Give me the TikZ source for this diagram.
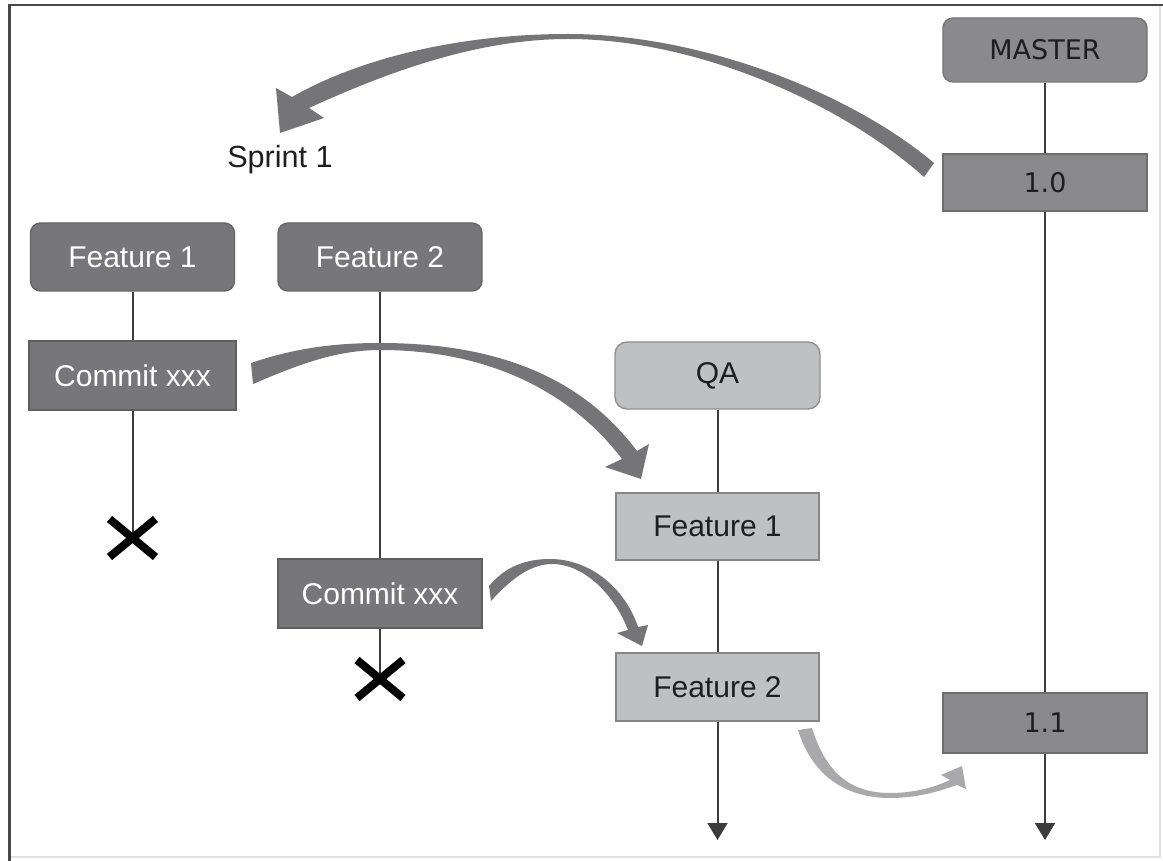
\documentclass[tikz,border=0pt]{standalone}
\usepackage{fontspec}
\setmainfont{Liberation Sans}
\newfontfamily\dvs{DejaVu Sans}
\usetikzlibrary{arrows.meta}
\definecolor{darkbox}{HTML}{77777A}
\definecolor{midbox}{HTML}{8A8A8C}
\definecolor{lightbox}{HTML}{BFC0C2}
\definecolor{swoosh}{HTML}{757577}
\definecolor{lswoosh}{HTML}{A9A9AB}
\definecolor{vline}{HTML}{3C3C3C}
\definecolor{txt}{HTML}{1E1E1E}
\tikzset{
  boxbase/.style={inner sep=0pt, line width=0.7pt},
  darkr/.style={boxbase, draw=darkbox!85!black, fill=darkbox, rounded corners=5pt, text=white, font=\fontsize{15}{17}\selectfont},
  darks/.style={boxbase, draw=darkbox!80!black, fill=darkbox, text=white, font=\fontsize{15}{17}\selectfont},
  lightr/.style={boxbase, draw=lightbox!75!black, fill=lightbox, rounded corners=6pt, text=txt, font=\fontsize{15}{17}\selectfont},
  lights/.style={boxbase, draw=lightbox!70!black, fill=lightbox, text=txt, font=\fontsize{15}{17}\selectfont},
  midr/.style={boxbase, draw=midbox!85!black, fill=midbox, rounded corners=5pt, text=txt, font=\dvs\fontsize{13.5}{16}\selectfont},
  mids/.style={boxbase, draw=midbox!80!black, fill=midbox, text=txt, font=\dvs\fontsize{13.5}{16}\selectfont},
  plaintext/.style={inner sep=0pt, text=txt, font=\fontsize{15.3}{18}\selectfont},
  vconn/.style={draw=vline, line width=1pt},
  vend/.style={vconn, -{Triangle[width=10pt,length=8.5pt]}},
  xmark/.style={draw=black, line width=4pt},
  swooshfill/.style={fill=swoosh, draw=none},
  lswooshfill/.style={fill=lswoosh, draw=none}
}
\begin{document}
\begin{tikzpicture}[x=0.5pt,y=-0.5pt]
\useasboundingbox (0,0) rectangle (1163,861);
\fill[white] (0,0) rectangle (1163,861);
% frame
\draw[draw=black!12, line width=0.6pt] (1160,5) -- (1160,857) -- (9.5,857);
\draw[draw=black!72, line width=1.3pt] (9.5,861) -- (9.5,5) -- (1163,5);

% nodes
\node[darkr, minimum width=102pt, minimum height=34pt] (f1) at (132.5,257) {Feature 1};
\node[darkr, minimum width=102pt, minimum height=34pt] (f2) at (380,257) {Feature 2};
\node[darks, minimum width=103.5pt, minimum height=34.5pt] (c1) at (132.5,375.5) {Commit xxx};
\node[darks, minimum width=102pt, minimum height=34.5pt] (c2) at (380,593.5) {Commit xxx};
\node[lightr, minimum width=102.5pt, minimum height=33.5pt] (qa) at (717.5,375.5) {QA};
\node[lights, minimum width=101.5pt, minimum height=33.5pt] (qf1) at (717.5,526.5) {Feature 1};
\node[lights, minimum width=101.5pt, minimum height=34pt] (qf2) at (717.5,687) {Feature 2};
\node[midr, minimum width=102pt, minimum height=32pt] (ms) at (1045,50) {MASTER};
\node[mids, minimum width=102pt, minimum height=28.5pt] (v10) at (1045,182.5) {1.0};
\node[mids, minimum width=102pt, minimum height=30pt] (v11) at (1045,723) {1.1};
\node[plaintext] (sp) at (280,160) {Sprint 1};

\coordinate (x1) at (132.5,538);
\coordinate (x2) at (380,679);
\coordinate (qend) at (717.5,840);
\coordinate (mend) at (1045,840);

% vertical connectors
\draw[vconn] (f1.south) -- (c1.north);
\draw[vconn] (c1.south) -- (x1);
\draw[vconn] (f2.south) -- (c2.north);
\draw[vconn] (c2.south) -- (x2);
\draw[vconn] (qa.south) -- (qf1.north);
\draw[vconn] (qf1.south) -- (qf2.north);
\draw[vend] (qf2.south) -- (qend);
\draw[vconn] (ms.south) -- (v10.north);
\draw[vconn] (v10.south) -- (v11.north);
\draw[vend] (v11.south) -- (mend);

% X marks
\draw[xmark] (x1) ++(-23,-19) -- ++(46,38);
\draw[xmark] (x1) ++(-23,19) -- ++(46,-38);
\draw[xmark] (x2) ++(-23,-19) -- ++(46,38);
\draw[xmark] (x2) ++(-23,19) -- ++(46,-38);

% top swoosh: 1.0 -> Sprint 1
\fill[swooshfill] (280,133) -- (276,88) -- (292,97)
  .. controls (360,58) and (460,34) .. (568,34)
  .. controls (700,34) and (850,92) .. (934,163)
  -- (924,177)
  .. controls (845,106) and (700,39) .. (568,39)
  .. controls (470,39) and (375,78) .. (309,108)
  -- (324,118) -- cycle;

% middle swoosh: Commit xxx -> QA Feature 1
\fill[swooshfill] (251,363)
  .. controls (295,348) and (335,343) .. (380,343)
  .. controls (500,343) and (583,379) .. (637,451)
  -- (649,444) -- (641,479) -- (605,467) -- (622,459)
  .. controls (572,393) and (490,350) .. (380,350)
  .. controls (335,350) and (295,366) .. (253,384) -- cycle;

% lower swoosh: Commit xxx -> QA Feature 2
\fill[swooshfill] (489,586)
  .. controls (505,567) and (525,559) .. (550,559)
  .. controls (590,559) and (625,588) .. (638,627)
  -- (648,625) -- (642,646) -- (617,633) -- (628,630)
  .. controls (615,596) and (585,564) .. (552,564)
  .. controls (530,564) and (510,580) .. (491,601) -- cycle;

% bottom-right swoosh: QA Feature 2 -> 1.1
\fill[lswooshfill] (798,730)
  .. controls (812,775) and (845,798) .. (890,798)
  .. controls (920,798) and (942,790) .. (957,785)
  -- (966,789) -- (962,766) -- (941,775) -- (950,780)
  .. controls (935,787) and (915,793) .. (890,793)
  .. controls (848,793) and (825,770) .. (812,728) -- cycle;
\end{tikzpicture}
\end{document}
